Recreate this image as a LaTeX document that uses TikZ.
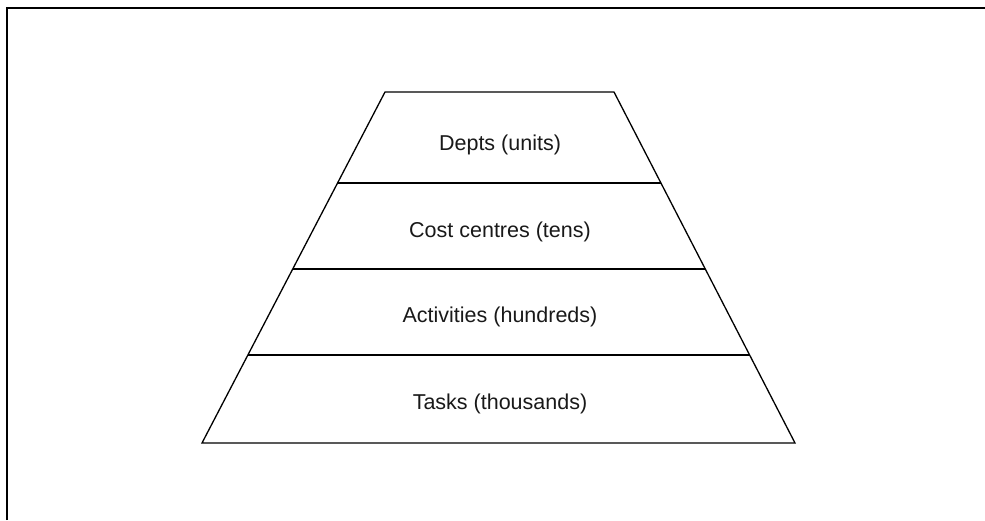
\documentclass[tikz,border=0pt]{standalone}
\usepackage{fontspec}
\setmainfont{Liberation Sans}
\usetikzlibrary{calc}
\begin{document}
\begin{tikzpicture}[x=1pt,y=-1pt,
  band/.style={draw=black,line width=1.3pt},
  lbl/.style={font=\fontsize{21.5}{24}\selectfont,inner sep=0pt,anchor=base,text=black!90}]
\useasboundingbox (0,0) rectangle (985,520);
\draw[line width=2pt] (7,520) -- (7,8) -- (985,8);
\coordinate (tl) at (385,92);
\coordinate (tr) at (614,92);
\coordinate (bl) at (202,443);
\coordinate (br) at (795,443);
\draw[band] (tl) -- (tr) -- (br) -- (bl) -- cycle;
\foreach \y/\n in {183/a,269/b,355/c}{
  \draw[band] ($(tl)!{(\y-92)/351}!(bl)$) -- ($(tr)!{(\y-92)/351}!(br)$);
}
\node[lbl] (l1) at (500,150) {Depts (units)};
\node[lbl] (l2) at (500,237) {Cost centres (tens)};
\node[lbl] (l3) at (500,322) {Activities (hundreds)};
\node[lbl] (l4) at (500,409) {Tasks (thousands)};
\end{tikzpicture}
\end{document}
